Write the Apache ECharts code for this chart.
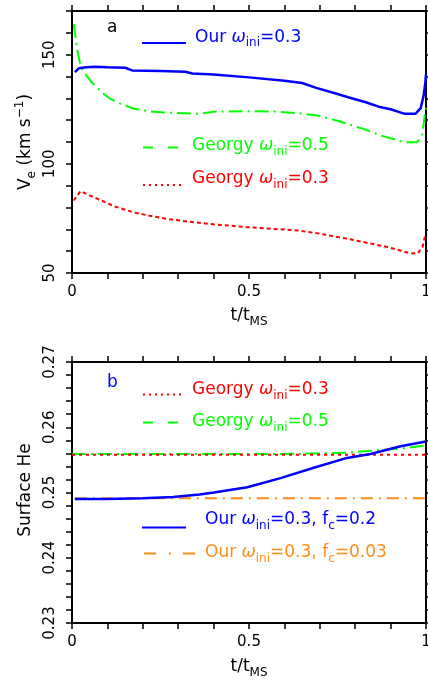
<!DOCTYPE html>
<html><head><meta charset="utf-8">
<script src="https://cdn.jsdelivr.net/npm/echarts@6/dist/echarts.min.js"></script>
<style>html,body{margin:0;padding:0;background:#fff}#c{width:428px;height:683px}</style>
</head><body><div id="c"></div>
<script>
// ---- Panel a: equatorial velocity (km/s) vs t/tMS ----
const tOurA = [0.008,0.02,0.04,0.065,0.10,0.15,0.17,0.25,0.32,0.34,0.40,0.50,0.60,0.65,0.69,0.75,0.78,0.83,0.87,0.90,0.94,0.97,0.985,0.993,0.998,1.0];
const vOurA = [142.0,143.8,144.2,144.5,144.2,144.0,142.8,142.5,142.2,141.4,140.9,139.6,138.1,137.0,134.8,132.0,130.5,128.2,126.0,125.0,122.9,122.9,125.5,131,137,141];
const tG05A = [0.005,0.015,0.023,0.03,0.041,0.055,0.07,0.09,0.107,0.14,0.173,0.22,0.267,0.36,0.40,0.50,0.57,0.60,0.65,0.693,0.74,0.778,0.83,0.872,0.91,0.938,0.975,0.99,0.996,1.0];
const vG05A = [164,152,145.7,143,140.4,137.5,135,132,129.9,127.3,125.3,124,123.5,122.9,123.9,124.1,124.0,123.6,123.0,122.1,120.2,118.3,115.6,113,111.3,109.9,109.9,113.7,122,126];
const tG03A = [0.005,0.024,0.05,0.079,0.12,0.173,0.22,0.267,0.33,0.40,0.495,0.636,0.70,0.778,0.84,0.891,0.93,0.957,0.977,0.99,0.999];
const vG03A = [83.2,87.5,85.5,83.5,80.5,77.8,76.2,74.8,73.5,72.3,71.0,69.5,68.0,65.7,63.6,61.9,60.2,58.9,59.1,61.9,68];
// ---- Panel b: surface He vs t/tMS ----
const tOurB = [0.008,0.10,0.20,0.286,0.36,0.401,0.495,0.589,0.683,0.777,0.843,0.928,1.0];
const heOurB = [0.2490,0.2490,0.2491,0.2493,0.2497,0.2500,0.2508,0.2522,0.2538,0.2553,0.2559,0.2571,0.2578];
const tOur03B = [0.008,0.25,0.5,0.75,1.0];
const heOur03B = [0.2491,0.2491,0.2491,0.2491,0.2491];
const tG05B = [0.0,0.3,0.6,0.7,0.777,0.871,0.94,1.0];
const heG05B = [0.2559,0.2559,0.2559,0.2560,0.2561,0.2565,0.2568,0.2572];
const tG03B = [0.0,0.25,0.5,0.75,1.0];
const heG03B = [0.2558,0.2558,0.2558,0.2558,0.2558];
// ---- axis ticks ----
const xTickLabels = [0, 0.5, 1];
const yTickLabelsA = [50, 100, 150];
const yTickLabelsB = [0.23, 0.24, 0.25, 0.26, 0.27];

const zip = (a, b) => a.map((v, i) => [v, b[i]]);
const F = 'DejaVu Sans';
const BLUE = '#0000ff', GREEN = '#00ff00', RED = '#ff0000', ORANGE = '#ff8c1a';

const near = (v, arr) => arr.some(x => Math.abs(x - v) < 1e-6);
const fmtX = v => near(v, xTickLabels) ? String(+v.toFixed(1)) : '';
const fmtYA = v => near(v, yTickLabelsA) ? String(Math.round(v)) : '';
const fmtYB = v => near(v, yTickLabelsB) ? v.toFixed(2) : '';

const axisLine = {onZero:false, lineStyle:{color:'#000', width:2}};
const tick = {show:true, inside:false, length:6, lineStyle:{color:'#000', width:1.5}};

function xAxes(g) {
  return [
    {gridIndex:g, type:'value', min:0, max:1, interval:0.1, position:'bottom',
     axisLine, axisTick:tick, splitLine:{show:false},
     axisLabel:{formatter:fmtX, fontSize:15, fontFamily:F, color:'#000', margin:12, showMinLabel:true, showMaxLabel:true, hideOverlap:false}},
    {gridIndex:g, type:'value', min:0, max:1, interval:0.1, position:'top',
     axisLine, axisTick:tick, splitLine:{show:false}, axisLabel:{show:false}}
  ];
}
function yAxes(g, min, max, interval, fmt) {
  return [
    {gridIndex:g, type:'value', min, max, interval, position:'left',
     axisLine, axisTick:tick, splitLine:{show:false},
     axisLabel:{formatter:fmt, rotate:90, fontSize:15, fontFamily:F, color:'#000', margin:14, showMinLabel:true, showMaxLabel:true, hideOverlap:false}},
    {gridIndex:g, type:'value', min, max, interval, position:'right',
     axisLine, axisTick:tick, splitLine:{show:false}, axisLabel:{show:false}}
  ];
}

const rich = {
  m:{fontSize:17, fontFamily:F},
  w:{fontSize:17, fontFamily:F, fontStyle:'italic'},
  s:{fontSize:12, fontFamily:F, padding:[11,0,0,0]},
  p:{fontSize:12, fontFamily:F, padding:[0,0,12,0]}
};
function txt(x, y, text, color, align) {
  return {type:'text', x, y, silent:true,
    style:{text, rich, fill:color, align:align || 'left', verticalAlign:'middle'}};
}
function key(x1, x2, y, color, dash, w) {
  return {type:'line', silent:true, shape:{x1, y1:y, x2, y2:y},
    style:{stroke:color, lineWidth:w || 2, lineDash:dash || null}};
}

const line = (xi, yi, data, color, dash, w, z) => ({
  type:'line', xAxisIndex:xi, yAxisIndex:yi, data, showSymbol:false, symbol:'none',
  smooth:false, animation:false, z: z || 2,
  lineStyle:{color, width:w || 2, type: dash || 'solid'}
});

const chart = echarts.init(document.getElementById('c'), null, {renderer:'canvas'});
chart.setOption({
  backgroundColor:'#fff',
  animation:false,
  grid:[
    {left:72, top:11, width:354, height:262, containLabel:false, outerBoundsMode:'none'},
    {left:72, top:362, width:354, height:261, containLabel:false, outerBoundsMode:'none'}
  ],
  xAxis:[...xAxes(0), ...xAxes(1)],
  yAxis:[...yAxes(0, 50, 170, 10, fmtYA), ...yAxes(1, 0.23, 0.27, 0.002, fmtYB)],
  series:[
    line(0, 0, zip(tG05A, vG05A), GREEN, [14,5,2,5], 2),
    line(0, 0, zip(tG03A, vG03A), RED, [4,3], 2),
    line(0, 0, zip(tOurA, vOurA), BLUE, 'solid', 2.5, 3),
    line(2, 2, zip(tG05B, heG05B), GREEN, [14,5,2,5], 2),
    line(2, 2, zip(tG03B, heG03B), RED, [3,4], 2),
    line(2, 2, zip(tOur03B, heOur03B), ORANGE, [12,6,2,6], 2),
    line(2, 2, zip(tOurB, heOurB), BLUE, 'solid', 2.5, 3)
  ],
  graphic:[
    // axis titles
    txt(249, 316, '{m|t/t}{s|MS}', '#000', 'center'),
    txt(249, 667, '{m|t/t}{s|MS}', '#000', 'center'),
    {type:'text', x:26, y:142, rotation:Math.PI/2, silent:true,
     style:{text:'{m|V}{s|e}{m| (km s}{p|−1}{m|)}', rich, fill:'#000', align:'center', verticalAlign:'middle'}},
    {type:'text', x:26, y:490, rotation:Math.PI/2, silent:true,
     style:{text:'{m|Surface He}', rich, fill:'#000', align:'center', verticalAlign:'middle'}},
    // panel labels
    txt(107, 28, '{m|a}', '#000'),
    txt(107, 383, '{m|b}', BLUE),
    // panel a legend
    key(142, 186, 43, BLUE, null, 2),
    txt(195, 37.5, '{m|Our }{w|ω}{s|ini}{m|=0.3}', BLUE),
    key(143, 180, 147.5, GREEN, [10,15], 2),
    txt(192, 146, '{m|Georgy }{w|ω}{s|ini}{m|=0.5}', GREEN),
    key(143, 181, 185, RED, [2,4], 2),
    txt(192, 179, '{m|Georgy }{w|ω}{s|ini}{m|=0.3}', RED),
    // panel b legend
    key(143, 181, 394.5, RED, [2,4], 2),
    txt(192, 390, '{m|Georgy }{w|ω}{s|ini}{m|=0.3}', RED),
    key(143, 180, 422.5, GREEN, [10,15], 2),
    txt(192, 422, '{m|Georgy }{w|ω}{s|ini}{m|=0.5}', GREEN),
    key(142, 186, 527.5, BLUE, null, 2),
    txt(205, 520, '{m|Our }{w|ω}{s|ini}{m|=0.3, f}{s|c}{m|=0.2}', BLUE),
    key(144, 195, 553.5, ORANGE, [12,13,2,12], 2),
    txt(205, 553, '{m|Our }{w|ω}{s|ini}{m|=0.3, f}{s|c}{m|=0.03}', ORANGE)
  ]
});
</script>
</body></html>
